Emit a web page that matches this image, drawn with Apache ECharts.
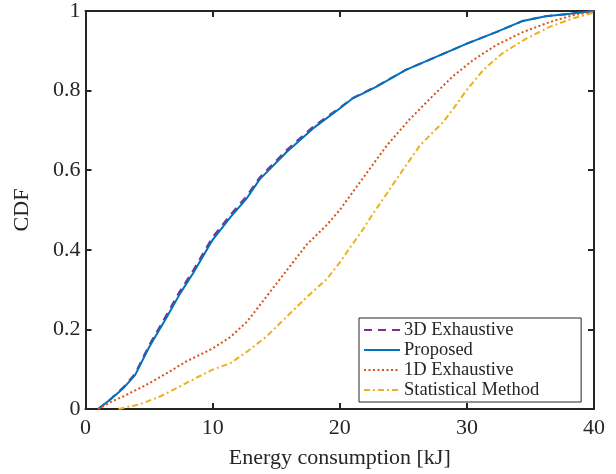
<!DOCTYPE html>
<html lang="en">
<head>
    <meta charset="UTF-8">
    <title>CDF of energy consumption</title>
    <script src="https://cdn.jsdelivr.net/npm/echarts@6/dist/echarts.min.js"></script>
    <style>
        html, body { margin: 0; padding: 0; background: #fff; }
        #echart { width: 616px; height: 474px; }
    </style>
</head>
<body>
<div id="echart"></div>
<script type="text/javascript">
    // [energy kJ, CDF]
    var exhaustive3D = [[1.0,0],[2.0,0.026],[3.0,0.055],[3.9,0.089],[5.0,0.16],[6.4,0.238],[7.4,0.295],[8.5,0.35],[10.0,0.432],[11.4,0.488],[12.7,0.536],[13.7,0.582],[15.8,0.65],[17.9,0.709],[20.0,0.757],[21.0,0.781],[22.9,0.811],[25.2,0.852],[27.9,0.889],[30.0,0.918],[32.3,0.947],[34.4,0.975],[36.2,0.987],[38.1,0.993],[40,1.0]]
    var proposed = [[1.0,0],[2.0,0.025],[3.0,0.053],[3.9,0.085],[5.0,0.155],[6.4,0.231],[7.4,0.288],[8.5,0.343],[10.0,0.425],[11.4,0.482],[12.7,0.53],[13.7,0.577],[15.8,0.645],[17.9,0.705],[20.0,0.755],[21.0,0.78],[22.9,0.81],[25.2,0.852],[27.9,0.889],[30.0,0.918],[32.3,0.947],[34.4,0.975],[36.2,0.987],[38.1,0.993],[40,1.0]]
    var exhaustive1D = [[1.0,0],[2.0,0.018],[3.0,0.032],[4.8,0.061],[6.4,0.09],[7.9,0.119],[10.0,0.152],[11.4,0.181],[12.7,0.219],[14.2,0.281],[15.8,0.347],[17.4,0.413],[19.0,0.463],[20.0,0.5],[21.8,0.579],[23.7,0.662],[25.5,0.728],[27.3,0.786],[28.9,0.836],[30.5,0.877],[32.3,0.914],[34.4,0.947],[36.5,0.972],[38.3,0.989],[40,0.998]]
    var statistical = [[2.6,0],[4.3,0.012],[5.9,0.032],[7.2,0.053],[8.7,0.078],[10.0,0.099],[11.4,0.115],[12.7,0.144],[14.2,0.181],[15.8,0.231],[17.4,0.281],[19.0,0.327],[20.0,0.368],[20.8,0.405],[21.8,0.45],[22.6,0.49],[23.4,0.527],[24.5,0.579],[26.3,0.662],[28.1,0.72],[28.9,0.753],[30.0,0.802],[31.3,0.852],[32.8,0.894],[34.7,0.931],[36.5,0.96],[38.3,0.981],[40,0.996]]
    var seriesNames = ['3D Exhaustive', 'Proposed', '1D Exhaustive', 'Statistical Method']

    var font = "'Liberation Serif', 'Times New Roman', serif"
    var axisColor = '#262626'

    function boxAxis(extra) {
        var a = {
            type: 'value',
            axisLine: {show: true, onZero: false, lineStyle: {color: axisColor, width: 2}},
            axisTick: {show: true, inside: true, length: 6, lineStyle: {color: axisColor, width: 2}},
            splitLine: {show: false},
            axisLabel: {show: false}
        }
        for (var k in extra) a[k] = extra[k]
        return a
    }

    function line(name, data, color, type) {
        return {
            name: name,
            type: 'line',
            data: data,
            symbol: 'none',
            smooth: false,
            lineStyle: {color: color, width: 2, type: type, cap: 'butt'},
            itemStyle: {color: color}
        }
    }

    var myEchart = echarts.init(document.getElementById('echart'))
    var option = {
        animation: false,
        backgroundColor: '#fff',
        textStyle: {fontFamily: font},
        grid: {left: 85.5, right: 22, top: 10, bottom: 61},
        xAxis: [
            boxAxis({
                position: 'bottom', min: 0, max: 40, interval: 10,
                name: 'Energy consumption [kJ]', nameLocation: 'middle', nameGap: 38,
                nameTextStyle: {fontSize: 22, color: axisColor, fontFamily: font},
                axisLabel: {show: true, fontSize: 22, color: axisColor, margin: 8, fontFamily: font}
            }),
            boxAxis({position: 'top', min: 0, max: 40, interval: 10})
        ],
        yAxis: [
            boxAxis({
                position: 'left', min: 0, max: 1, interval: 0.2,
                name: 'CDF', nameLocation: 'middle', nameGap: 52,
                nameTextStyle: {fontSize: 22, color: axisColor, fontFamily: font},
                axisLabel: {show: true, fontSize: 22, color: axisColor, margin: 5, fontFamily: font}
            }),
            boxAxis({position: 'right', min: 0, max: 1, interval: 0.2})
        ],
        legend: {
            data: seriesNames,
            orient: 'vertical',
            left: 359,
            top: 318,
            itemWidth: 36,
            itemHeight: 14,
            itemGap: 0,
            padding: [2, 42, 2, 4],
            borderColor: axisColor,
            borderWidth: 1,
            backgroundColor: '#fff',
            borderRadius: 0,
            itemStyle: {opacity: 0},
            textStyle: {fontSize: 18.5, color: axisColor, fontFamily: font, lineHeight: 20, padding: [0, 0, 0, -1]}
        },
        series: [
            line(seriesNames[0], exhaustive3D, '#7E2F8E', [8, 6]),
            line(seriesNames[1], proposed, '#0072BD', 'solid'),
            line(seriesNames[2], exhaustive1D, '#D95319', [2, 2.5]),
            line(seriesNames[3], statistical, '#EDB120', [6, 3, 2, 3])
        ]
    };
    myEchart.setOption(option)
</script>
</body>
</html>
